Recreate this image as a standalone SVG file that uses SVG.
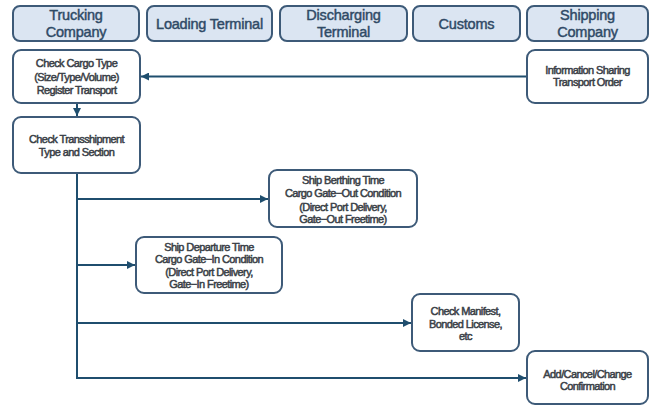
<svg xmlns="http://www.w3.org/2000/svg" width="655" height="406" viewBox="0 0 655 406">
<defs>
<style>
.hdr{fill:#dbe5f2;stroke:#3d5a78;stroke-width:2}
.node{fill:#ffffff;stroke:#3d5a78;stroke-width:2}
.ht{font-family:"Liberation Sans",Arial,sans-serif;font-size:14.5px;fill:#2f4a66;stroke:#2f4a66;stroke-width:0.45px;text-anchor:middle;letter-spacing:-0.2px}
.nt{font-family:"Liberation Sans",Arial,sans-serif;font-size:11px;fill:#3a3f47;stroke:#3a3f47;stroke-width:0.5px;text-anchor:middle;letter-spacing:-0.6px}
.conn{fill:none;stroke:#1f4e6e;stroke-width:2}
</style>
<marker id="arr" viewBox="0 0 10 10" refX="10" refY="5" markerWidth="4" markerHeight="4" orient="auto" markerUnits="strokeWidth">
<path d="M0,0 L10,5 L0,10 z" fill="#1f4e6e"/>
</marker>
</defs>
<rect width="655" height="406" fill="#ffffff"/>

<g id="hdr-trucking"><rect class="hdr" x="13" y="6" width="126" height="35" rx="7"/><text class="ht" x="76" y="20">Trucking</text><text class="ht" x="76" y="37">Company</text></g>
<g id="hdr-loading"><rect class="hdr" x="147" y="6" width="125" height="35" rx="7"/><text class="ht" x="209.5" y="28.5">Loading Terminal</text></g>
<g id="hdr-discharging"><rect class="hdr" x="280" y="6" width="127" height="35" rx="7"/><text class="ht" x="343.5" y="20">Discharging</text><text class="ht" x="343.5" y="37">Terminal</text></g>
<g id="hdr-customs"><rect class="hdr" x="413" y="6" width="107" height="35" rx="7"/><text class="ht" x="466.5" y="28.5">Customs</text></g>
<g id="hdr-shipping"><rect class="hdr" x="527" y="6" width="121" height="35" rx="7"/><text class="ht" x="587.5" y="20">Shipping</text><text class="ht" x="587.5" y="37">Company</text></g>

<g id="connectors">
<path class="conn" d="M527,76.5 H141" marker-end="url(#arr)"/>
<path class="conn" d="M77,103 V116" marker-end="url(#arr)"/>
<path class="conn" d="M77,173 V378 H526" marker-end="url(#arr)"/>
<path class="conn" d="M77,199 H268" marker-end="url(#arr)"/>
<path class="conn" d="M77,265 H135" marker-end="url(#arr)"/>
<path class="conn" d="M77,323 H411" marker-end="url(#arr)"/>
</g>

<g id="n-cargo"><rect class="node" x="13" y="50" width="127" height="53" rx="8"/><text class="nt" x="76.5" y="67">Check Cargo Type</text><text class="nt" x="76.5" y="80.5">(Size/Type/Volume)</text><text class="nt" x="76.5" y="94">Register Transport</text></g>
<g id="n-info"><rect class="node" x="527" y="50" width="121" height="53" rx="8"/><text class="nt" x="587.5" y="74">Information Sharing</text><text class="nt" x="587.5" y="86">Transport Order</text></g>
<g id="n-transship"><rect class="node" x="13" y="117" width="127" height="56" rx="8"/><text class="nt" x="76.5" y="143">Check Transshipment</text><text class="nt" x="76.5" y="156">Type and Section</text></g>
<g id="n-berthing"><rect class="node" x="269" y="170" width="148" height="57" rx="8"/><text class="nt" x="343" y="184">Ship Berthing Time</text><text class="nt" x="343" y="197">Cargo Gate−Out Condition</text><text class="nt" x="343" y="210.5">(Direct Port Delivery,</text><text class="nt" x="343" y="223">Gate−Out Freetime)</text></g>
<g id="n-departure"><rect class="node" x="136" y="237" width="146" height="56" rx="8"/><text class="nt" x="209" y="251">Ship Departure Time</text><text class="nt" x="209" y="262.5">Cargo Gate−In Condition</text><text class="nt" x="209" y="276">(Direct Port Delivery,</text><text class="nt" x="209" y="287.5">Gate−In Freetime)</text></g>
<g id="n-manifest"><rect class="node" x="412" y="294" width="107" height="57" rx="8"/><text class="nt" x="465.5" y="315">Check Manifest,</text><text class="nt" x="465.5" y="327.5">Bonded License,</text><text class="nt" x="465.5" y="340">etc</text></g>
<g id="n-add"><rect class="node" x="527" y="351" width="121" height="53" rx="8"/><text class="nt" x="587.5" y="378">Add/Cancel/Change</text><text class="nt" x="587.5" y="390">Confirmation</text></g>
</svg>
